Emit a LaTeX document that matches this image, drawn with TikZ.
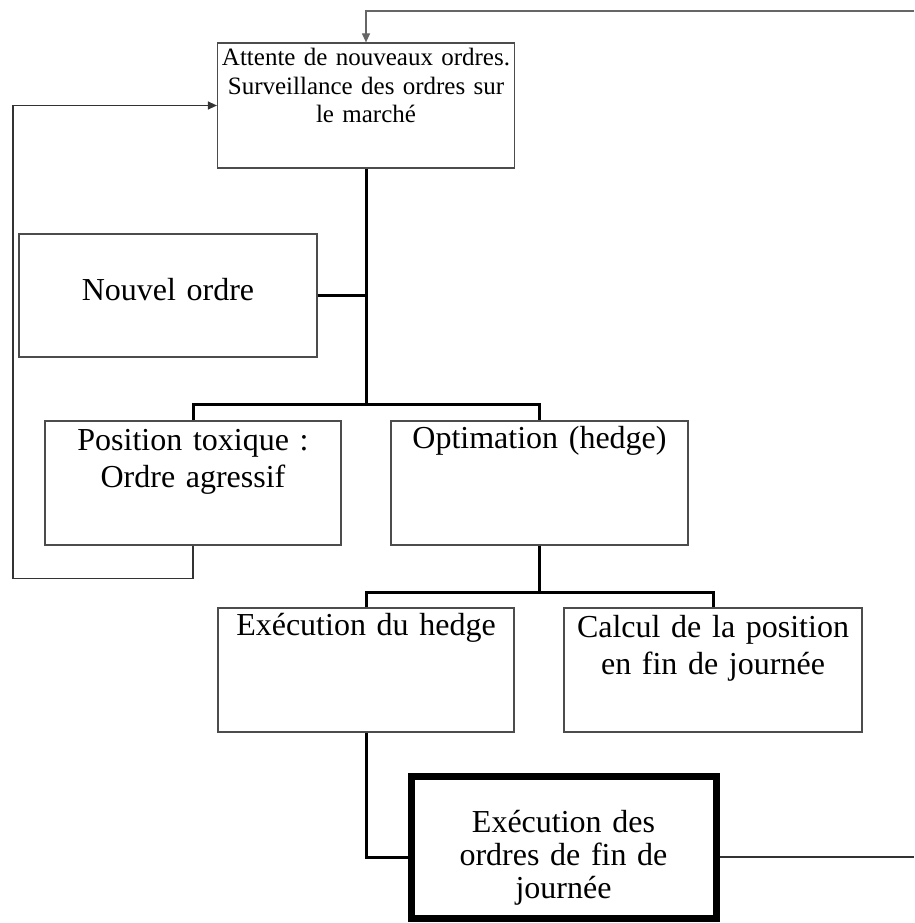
\documentclass[tikz,border=0pt]{standalone}
\usepackage{fontspec}
\setmainfont{Liberation Serif}
\usepackage{tikz}
\usetikzlibrary{arrows.meta}

\begin{document}
\begin{tikzpicture}[
  x=1pt, y=1pt,
  box/.style={draw=black!70, line width=1.2pt, align=center, inner xsep=4pt, inner ysep=0pt,
    text width=289pt, font=\fontsize{32}{37}\selectfont},
  % thick box at the bottom
  finbox/.style={box, draw=black, line width=7pt, text width=297pt, font=\fontsize{32}{33}\selectfont},
  conn/.style={draw, line width=3pt},
  ret/.style={draw=black!80, line width=1.2pt},
  tip/.style={-{Triangle[length=9pt,width=8pt]}}
]
\useasboundingbox (0,0) rectangle (914,-923);

\node[box, text height=23pt, text depth=102pt, font=\fontsize{25}{28.5}\selectfont] (attente) at (366,-105.5)
  {Attente de nouveaux ordres.\\ Surveillance des ordres sur\\ le marché};
\node[box, text width=290pt, text height=66pt, text depth=57pt] (nouvel) at (168,-295.5) {Nouvel ordre};
\node[box, text width=288pt, text height=29pt, text depth=95pt] (toxique) at (193,-483)
  {Position toxique :\\ Ordre agressif};
\node[box, text height=27pt, text depth=97pt] (optim) at (539.5,-483) {Optimation (hedge)};
\node[box, text width=288pt, text height=27pt, text depth=97pt] (hedge) at (366,-670) {Exécution du hedge};
\node[box, text width=290pt, text height=29pt, text depth=95pt] (calcul) at (713,-670)
  {Calcul de la position\\ en fin de journée};
\node[finbox, text height=56pt, text depth=86pt] (fin) at (563.5,-847)
  {Exécution des\\ ordres de fin de\\ journée};

% tree connectors
\draw[conn] (attente.south) -- ([yshift=16pt]attente.south |- toxique.north);
\draw[conn] (nouvel.east) -- (nouvel.east -| attente.south);
\draw[conn] (toxique.north) -- ++(0,16) -| (optim.north);
\draw[conn] (optim.south) -- ([yshift=15pt]optim.south |- hedge.north);
\draw[conn] (hedge.north) -- ++(0,15) -| (calcul.north);
\draw[conn] (hedge.south) |- ([yshift=-10pt]fin.west);

% feedback lines
\draw[ret, tip] (toxique.south) -- ++(0,-33) -| ([xshift=-204pt]attente.west) -- (attente.west);
\coordinate (edgeB) at (914,-857);
\coordinate (edgeT) at (914,-11);
\draw[ret] ([yshift=-10pt]fin.east) -- (edgeB);
\draw[ret, draw=black!60, tip] (edgeT) -| (attente.north);

\end{tikzpicture}
\end{document}
